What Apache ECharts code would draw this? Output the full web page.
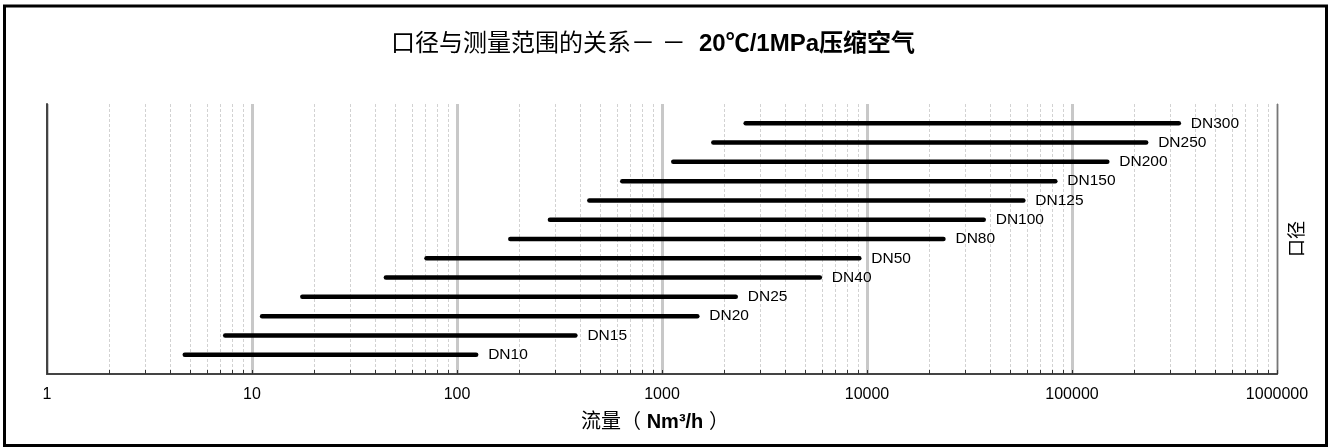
<!DOCTYPE html>
<html>
<head>
<meta charset="utf-8">
<script src="https://cdn.jsdelivr.net/npm/echarts@6/dist/echarts.min.js"></script>
<style>html,body{margin:0;padding:0;background:#fff}#c{width:1330px;height:447px}</style>
</head>
<body>
<div id="c"></div>
<script>
const categories = ['DN10','DN15','DN20','DN25','DN40','DN50','DN80','DN100','DN125','DN150','DN200','DN250','DN300'];
const minFlow = [4.7, 7.4, 11.2, 17.6, 45, 71, 182, 284, 442, 640, 1135, 1780, 2560];
const maxFlow = [124, 378, 1487, 2290, 5890, 9170, 23600, 37100, 57900, 82900, 148700, 230000, 332000];
const decades = [1, 10, 100, 1000, 10000, 100000];
const minorSteps = [2, 3, 4, 5, 6, 7, 8, 9];
const titleMain = '口径与测量范围的关系－ －  ';
const titleBold = '20℃/1MPa压缩空气';
const xName = ['流量（ ', 'Nm³/h', ' ）'];
const yName = '口径';

const FONT = '"Liberation Sans", Arial, "Noto Sans CJK SC", sans-serif';
const minorVals = [];
decades.forEach(d => minorSteps.forEach(s => minorVals.push([d * s, 0])));

const chart = echarts.init(document.getElementById('c'), null, {renderer: 'canvas'});

const lineSeries = categories.map((name, i) => ({
  type: 'line',
  name: name,
  xAxisIndex: 0, yAxisIndex: 0,
  data: [[minFlow[i], i + 1], [maxFlow[i], i + 1]],
  symbol: 'none',
  showSymbol: false,
  silent: true,
  z: 5,
  lineStyle: {width: 4.5, color: '#000', cap: 'round'},
  endLabel: {show: true, formatter: '{a}', distance: 12, color: '#000', fontSize: 15.5, fontFamily: FONT},
  labelLayout: {hideOverlap: false}
}));

const minorSeries = {
  type: 'custom',
  xAxisIndex: 0, yAxisIndex: 0,
  silent: true,
  z: 1,
  data: minorVals,
  encode: {x: 0, y: 1},
  renderItem: function (params, api) {
    const v = api.value(0);
    const top = api.coord([v, 14]);
    const bot = api.coord([v, 0]);
    const x = Math.round(top[0]) + 0.5;
    return {
      type: 'group',
      children: [
        {type: 'line', shape: {x1: x, y1: top[1], x2: x, y2: bot[1]},
         style: {stroke: '#d2d2d2', lineWidth: 1, lineDash: [3, 2]}},
        {type: 'line', shape: {x1: x, y1: bot[1], x2: x, y2: bot[1] - 4},
         style: {stroke: '#333', lineWidth: 1}}
      ]
    };
  }
};

const option = {
  animation: false,
  backgroundColor: '#fff',
  graphic: [{
    type: 'rect', silent: true, z: 100,
    shape: {x: 4.5, y: 6, width: 1322, height: 439.5},
    style: {fill: 'none', stroke: '#000', lineWidth: 3}
  }],
  title: {
    text: '{a|' + titleMain + '}{b|' + titleBold + '}',
    left: 653, top: 32, textAlign: 'center', padding: 0,
    textStyle: {
      rich: {
        a: {fontSize: 24, fontWeight: 'normal', fontFamily: FONT, color: '#000'},
        b: {fontSize: 24, fontWeight: 'bold', fontFamily: FONT, color: '#000'}
      }
    }
  },
  grid: {left: 47, right: 53, top: 104, bottom: 73, show: false},
  xAxis: [{
    type: 'log', logBase: 10, min: 1, max: 1000000, splitNumber: 6,
    position: 'bottom',
    name: '{a|' + xName[0] + '}{b|' + xName[1] + '}{a|' + xName[2] + '}',
    nameLocation: 'middle', nameGap: 38,
    nameTextStyle: {
      padding: [0, 14, 0, 0],
      rich: {
        a: {fontSize: 20, fontWeight: 'normal', fontFamily: FONT, color: '#000'},
        b: {fontSize: 20, fontWeight: 'bold', fontFamily: FONT, color: '#000'}
      }
    },
    axisLine: {show: true, lineStyle: {color: '#555', width: 1.5}},
    axisTick: {show: true, inside: true, length: 4, lineStyle: {color: '#333'}},
    axisLabel: {fontSize: 16, color: '#000', margin: 13, fontFamily: FONT,
                formatter: function (v) { return String(Math.round(v)); }},
    splitLine: {show: true, lineStyle: {color: '#c8c8c8', width: 3}}
  }, {
    type: 'log', logBase: 10, min: 1, max: 1000000, splitNumber: 6,
    position: 'top',
    axisLine: {show: true, lineStyle: {color: '#444', width: 2}},
    axisTick: {show: false}, axisLabel: {show: false}, splitLine: {show: false}
  }],
  yAxis: [{
    type: 'value', min: 0, max: 14, position: 'left',
    axisLine: {show: true, onZero: false, lineStyle: {color: '#444', width: 2}},
    axisTick: {show: false}, axisLabel: {show: false}, splitLine: {show: false}
  }, {
    type: 'value', min: 0, max: 14, position: 'right',
    name: yName, nameLocation: 'middle', nameGap: 12, nameRotate: 90,
    nameTextStyle: {fontSize: 18, color: '#000', fontFamily: FONT},
    axisLine: {show: true, onZero: false, lineStyle: {color: '#777', width: 1}},
    axisTick: {show: false}, axisLabel: {show: false}, splitLine: {show: false}
  }],
  series: [minorSeries].concat(lineSeries)
};
chart.setOption(option);
</script>
</body>
</html>
